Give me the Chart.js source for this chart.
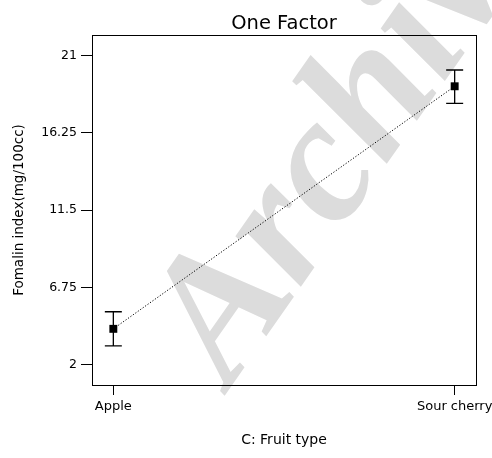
<!DOCTYPE html>
<html>
<head>
<meta charset="utf-8">
<script src="https://cdn.jsdelivr.net/npm/chart.js@4"></script>
<style>
  html, body { margin: 0; padding: 0; background: #fff; }
  #wrap { width: 492px; height: 458px; position: relative; }
</style>
</head>
<body>
<div id="wrap"><canvas id="myChart"></canvas></div>
<script>
const categories = ['Apple', 'Sour cherry'];
const means = [4.2, 19.1];   // Formalin index
const lower = [3.15, 18.05]; // error bar low
const upper = [5.25, 20.1];  // error bar high
const yTicks = [2, 6.75, 11.5, 16.25, 21];

Chart.defaults.font.family = '"DejaVu Sans", sans-serif';
Chart.defaults.color = '#000';

// faint watermark behind everything
const watermark = {
  id: 'watermark',
  beforeDraw(chart) {
    const ctx = chart.ctx;
    ctx.save();
    ctx.translate(230, 388);
    ctx.rotate(-55 * Math.PI / 180);
    ctx.font = 'bold italic 180px "Liberation Serif", serif';
    ctx.fillStyle = '#dcdcdc';
    ctx.textBaseline = 'alphabetic';
    ctx.fillText('Archive of SID', 0, 0);
    ctx.restore();
  }
};

// plot frame
const frame = {
  id: 'frame',
  beforeDatasetsDraw(chart) {
    const { left, top, right, bottom } = chart.chartArea;
    const ctx = chart.ctx;
    ctx.save();
    ctx.strokeStyle = '#000';
    ctx.lineWidth = 1;
    ctx.strokeRect(Math.round(left) + 0.5, Math.round(top) + 0.5,
      Math.round(right - left), Math.round(bottom - top));
    ctx.restore();
  }
};

// error bars from lower / upper
const errorBars = {
  id: 'errorBars',
  afterDatasetsDraw(chart) {
    const ctx = chart.ctx;
    const xs = chart.scales.x, ys = chart.scales.y;
    ctx.save();
    ctx.strokeStyle = '#000';
    ctx.lineWidth = 1.3;
    categories.forEach((c, i) => {
      const x = xs.getPixelForValue(i);
      const y1 = ys.getPixelForValue(lower[i]);
      const y2 = ys.getPixelForValue(upper[i]);
      ctx.beginPath();
      ctx.moveTo(x, y1); ctx.lineTo(x, y2);
      ctx.moveTo(x - 8.5, y1); ctx.lineTo(x + 8.5, y1);
      ctx.moveTo(x - 8.5, y2); ctx.lineTo(x + 8.5, y2);
      ctx.stroke();
    });
    ctx.restore();
  }
};

const ctx = document.getElementById('myChart');

new Chart(ctx, {
  type: 'scatter',
  data: {
    datasets: [{
      data: categories.map((c, i) => ({ x: i, y: means[i] })),
      showLine: true,
      borderColor: '#000',
      borderWidth: 1,
      borderDash: [1.2, 1.8],
      pointStyle: 'rect',
      pointRadius: 5.6,
      pointBorderWidth: 0,
      pointBackgroundColor: '#000'
    }]
  },
  options: {
    responsive: true,
    maintainAspectRatio: false,
    animation: false,
    layout: { padding: { top: 0, right: 16, bottom: 0, left: 0 } },
    plugins: {
      legend: { display: false },
      tooltip: { enabled: false },
      title: {
        display: true,
        text: 'One Factor',
        fullSize: false,
        color: '#000',
        font: { size: 19.5, weight: 'normal', lineHeight: 1 },
        padding: { top: 14.5, bottom: 1 }
      }
    },
    scales: {
      x: {
        type: 'linear',
        min: -0.0625,
        max: 1.0625,
        afterFit(scale) {
          scale.height = 73;
          scale.paddingLeft = 0;
          scale.paddingRight = 0;
        },
        afterBuildTicks(scale) { scale.ticks = categories.map((c, i) => ({ value: i })); },
        border: { display: false },
        grid: { drawOnChartArea: false, drawTicks: true, tickLength: 10, color: '#000' },
        ticks: {
          padding: 4,
          font: { size: 13 },
          maxRotation: 0,
          callback: (v) => categories[v]
        },
        title: {
          display: true,
          text: 'C: Fruit type',
          font: { size: 14 },
          padding: { top: 0, bottom: 9.6 }
        }
      },
      y: {
        min: 0.75,
        max: 22.25,
        afterFit(scale) { scale.width = 92; },
        afterBuildTicks(scale) { scale.ticks = yTicks.map(v => ({ value: v })); },
        border: { display: false },
        grid: { drawOnChartArea: false, drawTicks: true, tickLength: 11, color: '#000' },
        ticks: {
          padding: 4,
          font: { size: 12.5 },
          callback: (v) => String(v)
        },
        title: {
          display: true,
          text: 'Fomalin index(mg/100cc)',
          font: { size: 13.5 },
          padding: { top: 11, bottom: 0 }
        }
      }
    }
  },
  plugins: [watermark, frame, errorBars]
});
</script>
</body>
</html>
